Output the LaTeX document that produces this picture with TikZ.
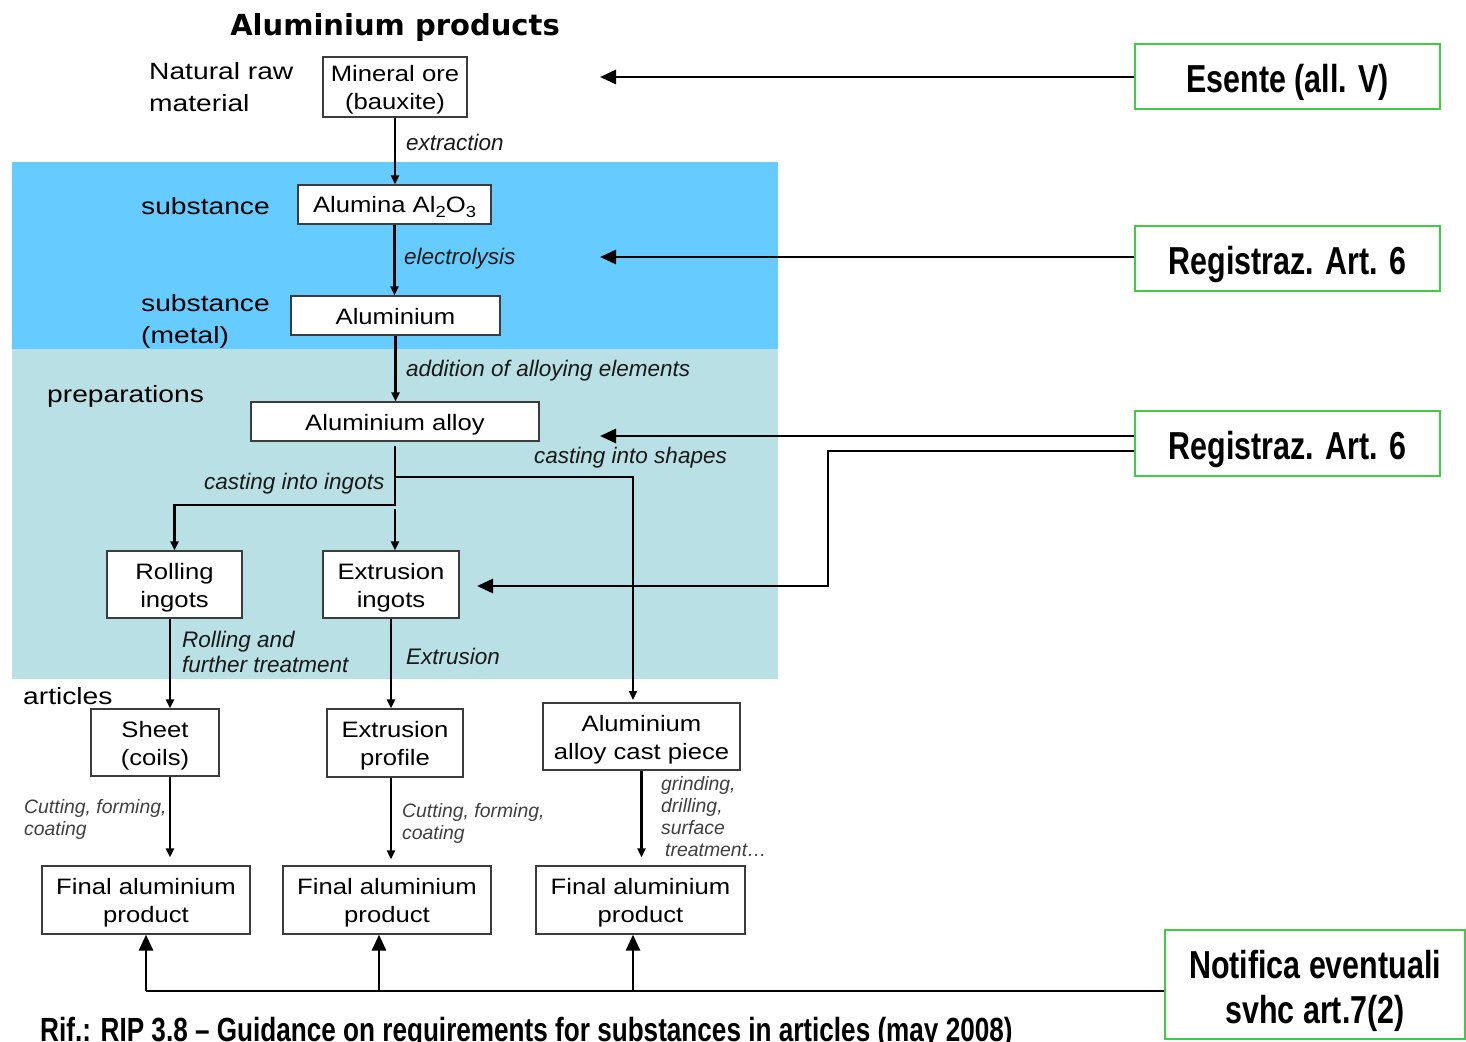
\documentclass[tikz,border=0pt]{standalone}
\usepackage{fontspec}
\setmainfont{Liberation Sans}
\newfontfamily\narrowfont[FakeStretch=0.78]{Liberation Sans}
\newfontfamily\boxfont[FakeStretch=1.15]{Liberation Sans}
\newfontfamily\sidefont[FakeStretch=1.2]{Liberation Sans}
\newfontfamily\titlefont{DejaVu Sans}
\usetikzlibrary{arrows.meta}
\definecolor{bandblue}{RGB}{102,204,255}
\definecolor{bandteal}{RGB}{185,224,228}
\definecolor{boxgreen}{RGB}{64,204,64}
\definecolor{boxline}{RGB}{60,60,60}
\newcommand{\bst}{\rule[-5pt]{0pt}{27pt}}
\newcommand{\gst}{\rule[-9pt]{0pt}{50pt}}
\newcommand{\gtop}{\rule{0pt}{41pt}}
\newcommand{\gbot}{\rule[-9pt]{0pt}{9pt}}
\begin{document}
\begin{tikzpicture}[x=1pt,y=-1pt,
  box/.style={draw=boxline, line width=1.2pt, fill=white, inner sep=0pt, align=center, font=\boxfont\fontsize{22.3}{28}\selectfont},
  gbox/.style={draw=boxgreen, line width=1.8pt, fill=white, inner sep=0pt, align=center, font=\narrowfont\bfseries\fontsize{39}{45}\selectfont},
  lbl/.style={anchor=base west, inner sep=0pt, font=\sidefont\fontsize{23.5}{28}\selectfont},
  ilbl/.style={anchor=base west, inner sep=0pt, font=\itshape\fontsize{22.5}{25}\selectfont, text=black!90},
  slbl/.style={anchor=base west, inner sep=0pt, font=\itshape\fontsize{19.4}{22}\selectfont, text=black!75},
  conn/.style={line width=2.4pt, -{Triangle[length=9pt,width=8pt]}},
  thinconn/.style={line width=1.8pt, -{Triangle[length=9pt,width=8pt]}},
  bigline/.style={line width=2.8pt},
  bigarrow/.style={line width=2.8pt, -{Triangle[length=16pt,width=14pt]}}
]
\fill[white] (0,0) rectangle (1466,1041);
\useasboundingbox (0,0) rectangle (1466,1041);
% bands
\fill[bandblue] (12,162) rectangle (778,349);
\fill[bandteal] (12,349) rectangle (778,679);

% title
\node[inner sep=0pt, font=\titlefont\bfseries\fontsize{29}{32}\selectfont] (title) at (395,28) {Aluminium products};

% left labels
\node[lbl] (nat1) at (149,79.5) {Natural raw};
\node[lbl] (nat2) at (149,111) {material};
\node[lbl] (sub1) at (141,214) {substance};
\node[lbl] (sub2) at (141,311) {substance};
\node[lbl] (met) at (141,343) {(metal)};
\node[lbl] (prep) at (47,402) {preparations};
\node[lbl] (art) at (23,704) {articles};

% boxes
\node[box, minimum width=144pt, minimum height=60pt] (ore) at (395,87) {\bst Mineral ore\\\bst(bauxite)};
\node[box, minimum width=193pt, minimum height=39pt] (alumina) at (394.5,204.5) {\bst Alumina Al\raisebox{-5pt}{\fontsize{16}{16}\selectfont 2}O\raisebox{-5pt}{\fontsize{16}{16}\selectfont 3}};
\node[box, minimum width=209pt, minimum height=39pt] (alu) at (395.5,315.5) {\bst Aluminium};
\node[box, minimum width=288pt, minimum height=39pt] (alloy) at (395,421.5) {\bst Aluminium alloy};
\node[box, minimum width=135pt, minimum height=67pt] (rolling) at (174.5,584.5) {\bst Rolling\\\bst ingots};
\node[box, minimum width=136pt, minimum height=67pt] (extri) at (391,584.5) {\bst Extrusion\\\bst ingots};
\node[box, minimum width=128pt, minimum height=67pt] (sheet) at (155,742.5) {\bst Sheet\\\bst(coils)};
\node[box, minimum width=136pt, minimum height=68pt] (profile) at (395,743) {\bst Extrusion\\\bst profile};
\node[box, minimum width=197pt, minimum height=67pt] (cast) at (641.5,736.5) {\bst Aluminium\\\bst alloy cast piece};
\node[box, minimum width=208pt, minimum height=68pt] (final1) at (146,900) {\bst Final aluminium\\\bst product};
\node[box, minimum width=208pt, minimum height=68pt] (final2) at (387,900) {\bst Final aluminium\\\bst product};
\node[box, minimum width=209pt, minimum height=68pt] (final3) at (640.5,900) {\bst Final aluminium\\\bst product};

% green boxes
\node[gbox, minimum width=305pt, minimum height=65pt] (esente) at (1287.5,76.5) {\gst Esente (all. V)};
\node[gbox, minimum width=305pt, minimum height=65pt] (reg1) at (1287.5,258.5) {\gst Registraz. Art. 6};
\node[gbox, minimum width=305pt, minimum height=65pt] (reg2) at (1287.5,443.5) {\gst Registraz. Art. 6};
\node[gbox, minimum width=300pt, minimum height=109pt] (notif) at (1315,984.5) {\gtop Notifica eventuali\\\gbot svhc art.7(2)};

% process labels
\node[ilbl] (l1) at (406,150) {extraction};
\node[ilbl] (l2) at (404,264) {electrolysis};
\node[ilbl] (l3) at (406,376) {addition of alloying elements};
\node[ilbl] (l4) at (534,463) {casting into shapes};
\node[ilbl] (l5) at (204,489) {casting into ingots};
\node[ilbl] (l6) at (182,647) {Rolling and};
\node[ilbl] (l7) at (182,672) {further treatment};
\node[ilbl] (l8) at (406,664) {Extrusion};
\node[slbl] (s1) at (24,813) {Cutting, forming,};
\node[slbl] (s2) at (24,835) {coating};
\node[slbl] (s3) at (402,817) {Cutting, forming,};
\node[slbl] (s4) at (402,839) {coating};
\node[slbl] (s5) at (661,790) {grinding,};
\node[slbl] (s6) at (661,812) {drilling,};
\node[slbl] (s7) at (661,834) {surface};
\node[slbl] (s8) at (665,856) {treatment…};

% footer (cut off by the lower edge, as in the reference)
\node[anchor=base west, inner sep=0pt, font=\narrowfont\bfseries\fontsize{33.5}{36}\selectfont] (footer) at (40,1041) {Rif.: RIP 3.8 – Guidance on requirements for substances in articles (may 2008)};

% main flow connectors
\draw[conn] (ore.south) -- (ore.south |- alumina.north);
\draw[conn] (alumina.south) -- (alumina.south |- alu.north);
\draw[conn] (alu.south) -- (alu.south |- alloy.north);
\coordinate (bsplit) at (395,505);
\coordinate (bstart2) at (395,509);
\coordinate (bshape) at (395,477);
\coordinate (castin) at (633,700);
\draw[conn] ([yshift=-4pt]alloy.south) -- (bsplit) -| (rolling.north);
\draw[conn] (bstart2) -- (bstart2 |- extri.north);
\draw[thinconn] (bshape) -| (castin);
\draw[conn] ([xshift=-4.5pt]rolling.south) -- ([xshift=15pt]sheet.north);
\draw[conn] (extri.south) -- ([xshift=-4pt]profile.north);
\draw[conn] ([xshift=15pt]sheet.south) -- ([xshift=24pt,yshift=8pt]final1.north);
\draw[conn] ([xshift=-4pt]profile.south) -- ([xshift=4pt,yshift=6pt]final2.north);
\draw[conn] (cast.south) -- ([yshift=8pt]cast.south |- final3.north);

% regulatory arrows
\coordinate (e1) at (600,77);
\coordinate (r1) at (600,257);
\coordinate (r2) at (600,436);
\coordinate (r3) at (828,586);
\coordinate (r4) at (477,586);
\draw[bigarrow] ([yshift=-0.5pt]esente.west) -- (e1);
\draw[bigarrow] ([yshift=1.5pt]reg1.west) -- (r1);
\draw[bigarrow] ([yshift=7.5pt]reg2.west) -- (r2);
\draw[bigarrow] ([yshift=-7.5pt]reg2.west) -| (r3) -- (r4);
\coordinate (n1) at (146,991);
\coordinate (n2) at (379,991);
\coordinate (n3) at (633,991);
\draw[bigline] ([yshift=-6.5pt]notif.west) -- (n1);
\draw[bigarrow] (n1) -- (final1.south);
\draw[bigarrow] (n2) -- ([xshift=-8pt]final2.south);
\draw[bigarrow] (n3) -- ([xshift=-7.5pt]final3.south);
\end{tikzpicture}
\end{document}
